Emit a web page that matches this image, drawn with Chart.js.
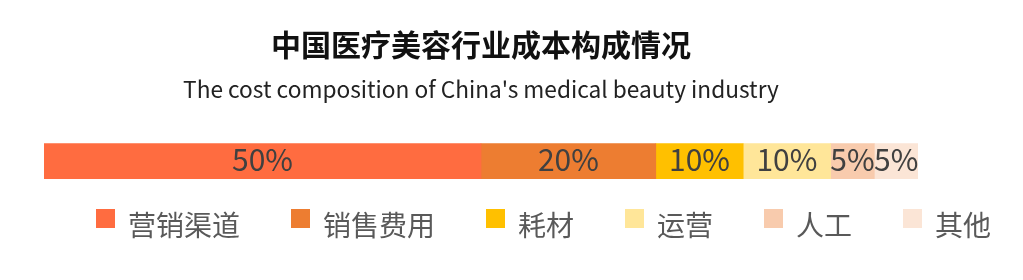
<!DOCTYPE html>
<html>
<head>
<meta charset="utf-8">
<script src="https://cdn.jsdelivr.net/npm/chart.js@4.4.0/dist/chart.umd.min.js"></script>
<style>
    body { margin: 0; background: #ffffff; }
    #wrap { position: relative; width: 1023px; height: 280px; }
    #legend {
        position: absolute;
        left: 96px;
        top: 209px;
        display: flex;
        font-family: "Noto Sans CJK SC", sans-serif;
        font-size: 28px;
        color: #595959;
    }
    .item { display: flex; align-items: flex-start; margin-right: 51px; }
    .box { width: 19px; height: 19px; margin-right: 13px; }
    .txt { line-height: 30px; white-space: nowrap; }
</style>
</head>
<body>
<div id="wrap">
    <canvas id="myChart" width="1023" height="280"></canvas>
    <div id="legend"></div>
</div>
<script>
const categories = ['营销渠道', '销售费用', '耗材', '运营', '人工', '其他'];
const shares = [50, 20, 10, 10, 5, 5];
const colors = ['#FF6C40', '#ED7D31', '#FFC000', '#FFE699', '#F8CBAD', '#FBE5D6'];
const titleText = '中国医疗美容行业成本构成情况';
const subtitleText = "The cost composition of China's medical beauty industry";

// legend built from the same arrays
const legend = document.getElementById('legend');
categories.forEach(function (name, i) {
    const item = document.createElement('div');
    item.className = 'item';
    item.innerHTML = '<div class="box" style="background:' + colors[i] + '"></div><span class="txt">' + name + '</span>';
    legend.appendChild(item);
});

// percent labels in the middle of each segment
const segmentLabels = {
    id: 'segmentLabels',
    afterDatasetsDraw(chart) {
        const ctx = chart.ctx;
        ctx.save();
        ctx.font = '30px "Noto Sans CJK SC"';
        ctx.fillStyle = '#404040';
        ctx.textAlign = 'center';
        ctx.textBaseline = 'middle';
        chart.data.datasets.forEach(function (ds, i) {
            const el = chart.getDatasetMeta(i).data[0];
            const p = el.getCenterPoint();
            ctx.fillText(ds.data[0] + '%', p.x, p.y - 1.5);
        });
        ctx.restore();
    }
};

const ctx = document.getElementById('myChart').getContext('2d');
const myChart = new Chart(ctx, {
    type: 'bar',
    data: {
        labels: [''],
        datasets: categories.map(function (name, i) {
            return {
                label: name,
                data: [shares[i]],
                backgroundColor: colors[i],
                borderWidth: 0,
                barThickness: 35
            };
        })
    },
    options: {
        indexAxis: 'y',
        responsive: false,
        animation: false,
        devicePixelRatio: 1,
        layout: {
            padding: { left: 44, right: 105, top: 27, bottom: 66 }
        },
        scales: {
            x: { stacked: true, min: 0, max: 100, display: false },
            y: { stacked: true, display: false }
        },
        plugins: {
            legend: { display: false },
            tooltip: { enabled: false },
            title: {
                display: true,
                fullSize: false,
                text: titleText,
                color: '#111111',
                font: { family: '"Noto Sans CJK SC"', size: 30, weight: 'bold', lineHeight: 1.2 },
                padding: { top: 0, bottom: 13 }
            },
            subtitle: {
                display: true,
                fullSize: false,
                text: subtitleText,
                color: '#222222',
                font: { family: '"Noto Sans CJK SC"', size: 22.7, lineHeight: 1.2 },
                padding: { top: 0, bottom: 5 }
            }
        }
    },
    plugins: [segmentLabels]
});
</script>
</body>
</html>
